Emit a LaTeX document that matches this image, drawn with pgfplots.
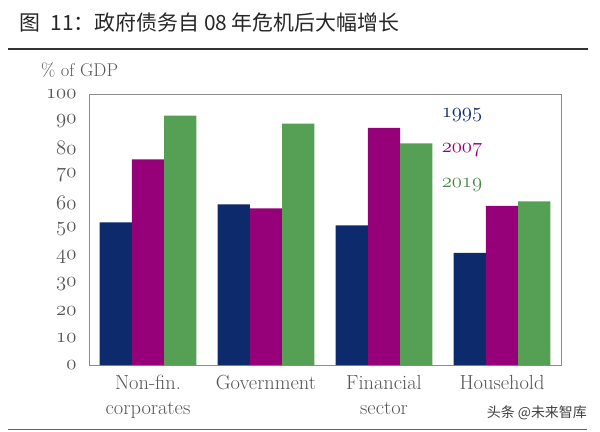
\documentclass[border=0pt]{standalone}
\usepackage{fontspec}
\usepackage{pgfplots}
\pgfplotsset{compat=1.18}
\newfontfamily\cjk{Noto Sans CJK SC}
\definecolor{navy}{RGB}{12,42,108}
\definecolor{plum}{RGB}{150,0,120}
\definecolor{leaf}{RGB}{86,160,86}
\definecolor{txt}{RGB}{85,85,85}
\newcommand\os[1]{$\mathnormal{#1}$}

\begin{document}
\begin{tikzpicture}[x=1bp, y=1bp]
  \path[use as bounding box] (0,0) rectangle (600,431);
  % title and rules
  \node[anchor=west, inner sep=0pt, text=black!85] at (19,409)
    {\cjk\fontsize{21}{24}\selectfont 图\hspace{0.5em}11：政府债务自 08 年危机后大幅增长};
  \draw[black!80, line width=1.6bp] (8,382) -- (588,382);
  \draw[black!60, line width=0.9bp] (8,2) -- (587,2);
  \node[anchor=east, inner sep=0pt, text=black!75] at (587,18)
    {\cjk\fontsize{14}{16}\selectfont 头条 @未来智库};

  \begin{axis}[
      at={(89bp,66bp)}, anchor=south west,
      scale only axis, width=472bp, height=271bp,
      ybar=0pt, bar width=32.3bp,
      xmin=-0.5, xmax=3.5, ymin=0, ymax=100,
      axis line style={black!45, line width=0.8bp},
      xtick={0,1,2,3},
      xticklabels={Non-fin.\\corporates, Government, Financial\\sector, Household},
      xticklabel style={align=center, text=txt, font=\fontsize{20.5}{25}\selectfont, yshift=-7bp},
      ytick={0,10,...,100},
      yticklabels={\os{0},\os{10},\os{20},\os{30},\os{40},\os{50},\os{60},\os{70},\os{80},\os{90},\os{100}},
      yticklabel style={text=txt, font=\fontsize{22}{24}\selectfont, xshift=-9bp},
      major tick length=0pt,
      clip=false,
    ]
    \addplot[draw=none, fill=navy] coordinates {(0,52.6) (1,59.3) (2,51.5) (3,41.4)};
    \addplot[draw=none, fill=plum] coordinates {(0,75.9) (1,57.8) (2,87.5) (3,58.7)};
    \addplot[draw=none, fill=leaf] coordinates {(0,92.0) (1,89.1) (2,81.8) (3,60.4)};
  \end{axis}

  % y unit label
  \node[anchor=west, inner sep=0pt, text=txt] at (41,361)
    {\fontsize{18.5}{20}\selectfont \% of GDP};
  % legend text
  \node[text=navy] at (462,316) {\fontsize{20}{24}\selectfont\os{1995}};
  \node[text=plum] at (462,281) {\fontsize{20}{24}\selectfont\os{2007}};
  \node[text=leaf!85!black] at (462,246) {\fontsize{20}{24}\selectfont\os{2019}};
\end{tikzpicture}
\end{document}
